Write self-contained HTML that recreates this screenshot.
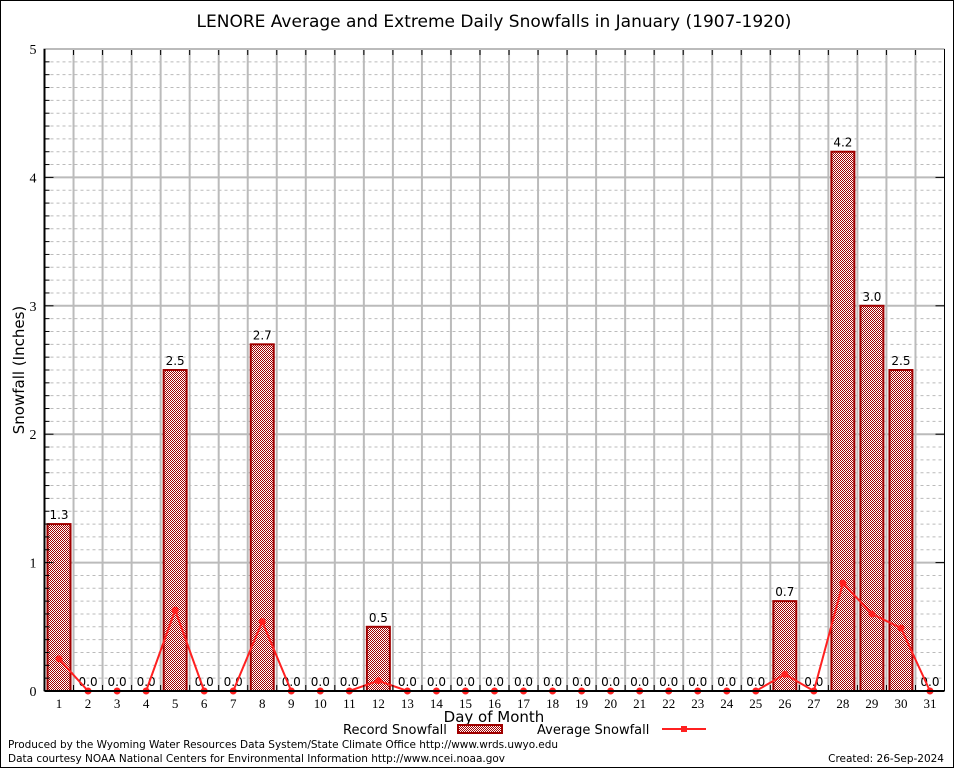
<!DOCTYPE html>
<html><head><meta charset="utf-8"><style>
body{margin:0;background:#fff}
svg text{font-family:"DejaVu Sans","Liberation Sans",sans-serif}
svg text.serif{font-family:"Liberation Serif",serif}
</style></head><body>
<svg id="c" width="954" height="768" xmlns="http://www.w3.org/2000/svg">
<defs>
<pattern id="chk" width="2" height="2" patternUnits="userSpaceOnUse">
<rect width="2" height="2" fill="#fff"/><rect width="1" height="1" fill="#a00000"/><rect x="1" y="1" width="1" height="1" fill="#a00000"/>
</pattern>
</defs>
<rect x="0.5" y="0.5" width="953" height="767" fill="#fff" stroke="#000"/>
<text x="494" y="27" font-size="17" text-anchor="middle">LENORE Average and Extreme Daily Snowfalls in January (1907-1920)</text>
<g id="grid"></g>
<g id="bars"></g>
<g id="avg"></g>
<g id="axes"></g>
<text x="24" y="370" font-size="15" text-anchor="middle" transform="rotate(-90 24 370)">Snowfall (Inches)</text>
<text x="494" y="722" font-size="15" text-anchor="middle">Day of Month</text>
<g>
<text x="343" y="734" font-size="13">Record Snowfall</text>
<rect x="458" y="725" width="44" height="8" fill="url(#chk)" stroke="#a00000" stroke-width="2"/>
<text x="537" y="734" font-size="13">Average Snowfall</text>
<line x1="662" y1="729" x2="706" y2="729" stroke="#ff2020" stroke-width="2"/>
<rect x="681" y="726" width="6" height="6" fill="#ff2020"/>
</g>
<text x="8" y="748" font-size="10.5" textLength="550">Produced by the Wyoming Water Resources Data System/State Climate Office http://www.wrds.uwyo.edu</text>
<text x="8" y="762" font-size="10.5" textLength="497">Data courtesy NOAA National Centers for Environmental Information http://www.ncei.noaa.gov</text>
<text x="944" y="762" font-size="10.5" text-anchor="end">Created: 26-Sep-2024</text>
</svg>
<script>
const days=[1,2,3,4,5,6,7,8,9,10,11,12,13,14,15,16,17,18,19,20,21,22,23,24,25,26,27,28,29,30,31];
const records=[1.3,0,0,0,2.5,0,0,2.7,0,0,0,0.5,0,0,0,0,0,0,0,0,0,0,0,0,0,0.7,0,4.2,3.0,2.5,0];
const averages=[0.25,0,0,0,0.63,0,0,0.54,0,0,0,0.08,0,0,0,0,0,0,0,0,0,0,0,0,0,0.13,0,0.84,0.6,0.49,0];
const yTicks=[0,1,2,3,4,5];
const NS="http://www.w3.org/2000/svg";
const L=44.5,R=944.5,T=49,B=691;
const x=d=>L+(d-0.5)*(R-L)/31;
const y=v=>B-v*(B-T)/5;
function mk(tag,attrs,parent){const e=document.createElementNS(NS,tag);for(const k in attrs)e.setAttribute(k,attrs[k]);document.getElementById(parent).appendChild(e);return e;}
for(let i=1;i<50;i++){if(i%10===0)continue;const v=i/10;
 const e=mk('line',{x1:L,x2:R,y1:y(v),y2:y(v),stroke:'#bbb','stroke-dasharray':'3,3'},'grid');
 
 
 const t=mk('line',{x1:L,x2:L+5,y1:y(v),y2:y(v),stroke:'#000'},'axes');
 
 
}
yTicks.forEach(v=>{
 const g=mk('line',{x1:L,x2:R,y1:y(v),y2:y(v),stroke:'#bbb','stroke-width':2},'grid');
 
 
 const t=mk('text',{x:L-8,y:y(v)+5,'font-size':14,'text-anchor':'end','class':'serif'},'axes');
 t.textContent=v;
 
 
 const tk=mk('line',{x1:L,x2:L+9,y1:y(v),y2:y(v),stroke:'#000'},'axes');
 
 
 const tr=mk('line',{x1:R-9,x2:R,y1:y(v),y2:y(v),stroke:'#000'},'axes');
 
 
});
for(let d=1;d<31;d++){const xv=x(d+0.5);
 const g=mk('line',{x1:xv,x2:xv,y1:T,y2:B,stroke:'#bbb','stroke-width':2},'grid');
 
 
 const t1=mk('line',{x1:xv,x2:xv,y1:T,y2:T+6,stroke:'#000'},'axes');
 
 
 const t2=mk('line',{x1:xv,x2:xv,y1:B-6,y2:B,stroke:'#000'},'axes');
 
 
}
days.forEach((d,i)=>{
 const v=records[i];
 if(v>0){const b=mk('rect',{x:x(d)-11.5,y:y(v),width:23,height:B-y(v),fill:'url(#chk)',stroke:'#a00000','stroke-width':2},'bars');
  
  }
 const lb=mk('text',{x:x(d),y:y(v)-5,'font-size':12,'text-anchor':'middle'},'bars');
 lb.textContent=v.toFixed(1);
 
 
 const xl=mk('text',{x:x(d),y:B+17,'font-size':13,'text-anchor':'middle','class':'serif'},'axes');
 xl.textContent=d;
 
 
});
const pl=mk('polyline',{points:days.map((d,i)=>x(d)+','+y(averages[i])).join(' '),fill:'none',stroke:'#ff2020','stroke-width':2},'avg');


days.forEach((d,i)=>{
 const m=mk('circle',{cx:x(d),cy:y(averages[i]),r:3.5,fill:'#ff2020'},'avg');
 
 
});
const fr=mk('path',{d:`M${R},${T} H${L} V${B} H${R}`,fill:'none',stroke:'#bbb','stroke-width':2},'axes');


const la=mk('line',{x1:L,x2:L,y1:T,y2:B,stroke:'#000','stroke-width':2},'axes');


const ba=mk('line',{x1:L,x2:R,y1:B,y2:B,stroke:'#000','stroke-width':2},'axes');


const ra=mk('line',{x1:R,x2:R,y1:T,y2:B,stroke:'#000','stroke-width':1},'axes');


</script>
</body></html>
